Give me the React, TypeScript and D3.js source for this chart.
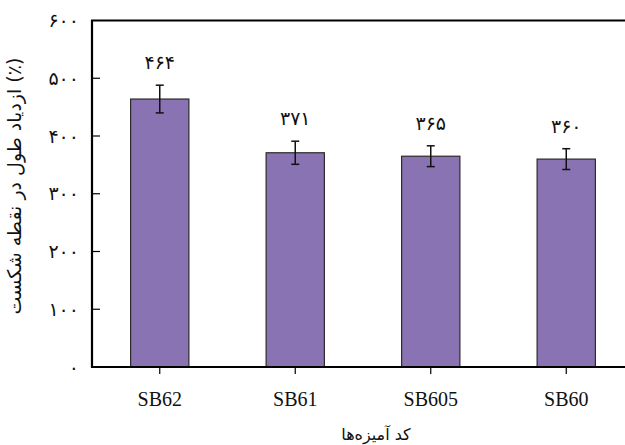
import { useEffect, useRef } from 'react';
import * as d3 from 'd3';

const categories = ['SB62', 'SB61', 'SB605', 'SB60'];
const values = [464, 371, 365, 360];
const errors = [24, 20, 18, 18];
const valueLabels = ['۴۶۴', '۳۷۱', '۳۶۵', '۳۶۰'];
const yTicks = [0, 100, 200, 300, 400, 500, 600];
const yTickLabels = ['۰', '۱۰۰', '۲۰۰', '۳۰۰', '۴۰۰', '۵۰۰', '۶۰۰'];

const width = 625;
const height = 445;
const persianFont = '"DejaVu Sans", sans-serif';

function BarChart() {
  const svgRef = useRef<SVGSVGElement>(null);

  useEffect(() => {
    const root = d3.select(svgRef.current);
    root.selectAll('*').remove();

    const left = 92;
    const right = 634;
    const top = 20.5;
    const bottom = 367;

    const x = d3.scaleBand().domain(categories).range([left, right]).paddingInner(0.57).paddingOuter(0.285);
    const y = d3.scaleLinear().domain([0, 600]).range([bottom, top]);

    const data = categories.map((c, i) => ({ c, v: values[i], e: errors[i], label: valueLabels[i] }));

    // bars
    root
      .selectAll('rect.bar')
      .data(data)
      .enter()
      .append('rect')
      .attr('class', 'bar')
      .attr('x', d => x(d.c)!)
      .attr('y', d => y(d.v))
      .attr('width', x.bandwidth())
      .attr('height', d => bottom - y(d.v))
      .attr('fill', '#8973b3')
      .attr('stroke', '#2a2a2a')
      .attr('stroke-width', 1.2);

    // error bars
    const eg = root.selectAll('g.err').data(data).enter().append('g').attr('class', 'err');
    const cx = (d: any) => x(d.c)! + x.bandwidth() / 2;
    eg.append('line')
      .attr('x1', cx)
      .attr('x2', cx)
      .attr('y1', d => y(d.v + d.e))
      .attr('y2', d => y(d.v - d.e))
      .attr('stroke', '#111')
      .attr('stroke-width', 1.5);
    [1, -1].forEach(s => {
      eg.append('line')
        .attr('x1', d => cx(d) - 4)
        .attr('x2', d => cx(d) + 4)
        .attr('y1', d => y(d.v + s * d.e))
        .attr('y2', d => y(d.v + s * d.e))
        .attr('stroke', '#111')
        .attr('stroke-width', 1.5);
    });

    // value labels
    root
      .selectAll('text.val')
      .data(data)
      .enter()
      .append('text')
      .attr('class', 'val')
      .attr('x', cx)
      .attr('y', d => y(d.v + d.e) - 16)
      .attr('text-anchor', 'middle')
      .style('font-family', persianFont)
      .style('font-size', '19px')
      .style('fill', '#111')
      .text(d => d.label);

    // frame (top, left, bottom)
    root
      .append('path')
      .attr('d', `M${width + 5},${top}H${left}V${bottom}H${width + 5}`)
      .attr('fill', 'none')
      .attr('stroke', '#000')
      .attr('stroke-width', 2.2);

    // y ticks (inward)
    root
      .selectAll('line.yt')
      .data(yTicks.slice(1, -1))
      .enter()
      .append('line')
      .attr('x1', left)
      .attr('x2', left + 8)
      .attr('y1', d => y(d))
      .attr('y2', d => y(d))
      .attr('stroke', '#000')
      .attr('stroke-width', 1.2);

    root
      .selectAll('text.yl')
      .data(yTicks)
      .enter()
      .append('text')
      .attr('x', 79)
      .attr('y', d => y(d))
      .attr('dy', '0.35em')
      .attr('text-anchor', 'end')
      .style('font-family', persianFont)
      .style('font-size', '19px')
      .style('fill', '#111')
      .text((_, i) => yTickLabels[i]);

    // x ticks (outward)
    root
      .selectAll('line.xt')
      .data(categories)
      .enter()
      .append('line')
      .attr('x1', d => x(d)! + x.bandwidth() / 2)
      .attr('x2', d => x(d)! + x.bandwidth() / 2)
      .attr('y1', bottom)
      .attr('y2', bottom + 7)
      .attr('stroke', '#000')
      .attr('stroke-width', 1.2);

    root
      .selectAll('text.xl')
      .data(categories)
      .enter()
      .append('text')
      .attr('x', d => x(d)! + x.bandwidth() / 2)
      .attr('y', 406)
      .attr('text-anchor', 'middle')
      .style('font-family', '"Liberation Serif", "Times New Roman", serif')
      .style('font-size', '20px')
      .style('fill', '#111')
      .text(d => d);

    // axis titles
    root
      .append('text')
      .attr('x', 376)
      .attr('y', 440)
      .attr('text-anchor', 'middle')
      .style('font-family', persianFont)
      .style('font-size', '16px')
      .style('fill', '#111')
      .text('کد آمیزه‌ها');

    root
      .append('text')
      .attr('transform', 'translate(21,186) rotate(-90)')
      .attr('text-anchor', 'middle')
      .style('font-family', persianFont)
      .style('font-size', '19px')
      .style('fill', '#111')
      .text('ازدیاد طول در نقطه شکست (٪)');
  }, []);

  return (
    <svg
      ref={svgRef}
      width={width}
      height={height}
      style={{ position: 'absolute', left: 0, top: 0, background: '#fff' }}
    />
  );
}

export default function App() {
  return <BarChart />;
}
